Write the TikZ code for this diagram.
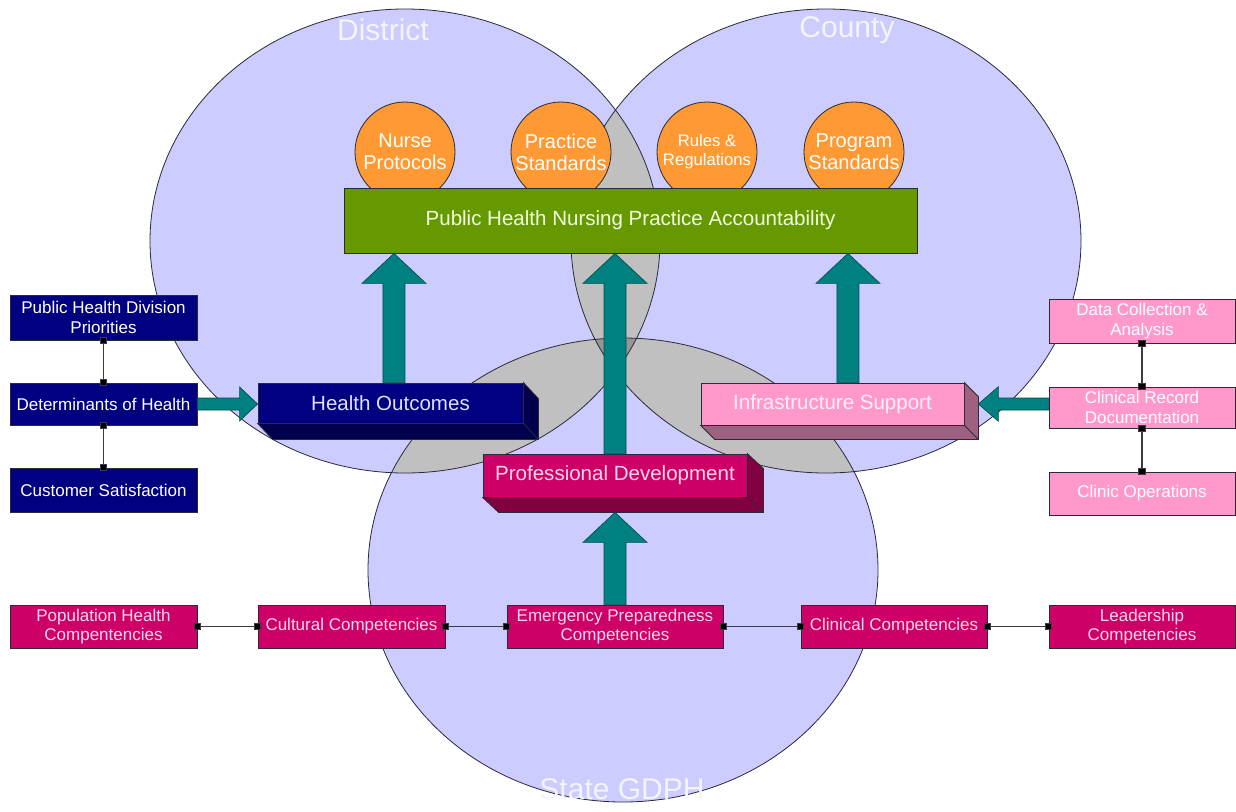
\documentclass[tikz,border=0pt]{standalone}
\usepackage{fontspec}
\setmainfont{Liberation Sans}
\usetikzlibrary{arrows.meta,calc}
\definecolor{lav}{HTML}{CCCCFF}
\definecolor{lensgray}{HTML}{C0C0C0}
\definecolor{trigray}{HTML}{969696}
\definecolor{navyf}{HTML}{000080}
\definecolor{navys}{HTML}{00004D}
\definecolor{magf}{HTML}{CC0066}
\definecolor{mags}{HTML}{800040}
\definecolor{magtext}{HTML}{FFD6EB}
\definecolor{pinkf}{HTML}{FF99CC}
\definecolor{pinks}{HTML}{A0607F}
\definecolor{tealf}{HTML}{008080}
\definecolor{orangef}{HTML}{FF9933}
\definecolor{greenf}{HTML}{669900}
\definecolor{greentext}{HTML}{F0FFE0}
\definecolor{edge}{HTML}{2A2A3A}
\definecolor{labeltext}{HTML}{F4F4FF}
\newcommand\upblk[2]{%
  \draw[blockarrow] let \p1=#1, \p2=#2 in
   (\x1-8.25pt,\y1) -- (\x1-8.25pt,\y2-22.5pt) -- (\x1-24pt,\y2-22.5pt) -- (\x1,\y2)
   -- (\x1+24pt,\y2-22.5pt) -- (\x1+8.25pt,\y2-22.5pt) -- (\x1+8.25pt,\y1) -- cycle;}
\newcommand\rightblk[2]{%
  \draw[blockarrow] let \p1=#1, \p2=#2 in
   (\x1,\y1+4.5pt) -- (\x2-13.5pt,\y1+4.5pt) -- (\x2-13.5pt,\y1+12.75pt) -- (\x2,\y1)
   -- (\x2-13.5pt,\y1-12.75pt) -- (\x2-13.5pt,\y1-4.5pt) -- (\x1,\y1-4.5pt) -- cycle;}
\newcommand\leftblk[2]{%
  \draw[blockarrow] let \p1=#1, \p2=#2 in
   (\x1,\y1+4.5pt) -- (\x2+15pt,\y1+4.5pt) -- (\x2+15pt,\y1+13pt) -- (\x2,\y1)
   -- (\x2+15pt,\y1-13pt) -- (\x2+15pt,\y1-4.5pt) -- (\x1,\y1-4.5pt) -- cycle;}
\newcommand\threedsides[4]{%
  \filldraw[facet, fill=#2] (#1.north east) -- ++(#3,#4) -- ($(#1.south east)+(#3,#4)$)
   -- ($(#1.south west)+(#3,#4)$) -- (#1.south west) -- (#1.south east) -- cycle;
  \draw[facet] (#1.south east) -- ++(#3,#4);}
\begin{document}
\begin{tikzpicture}[x=0.75pt,y=-0.75pt,
  venn/.style={draw=edge, line width=0.6pt},
  venntxt/.style={text=labeltext, font=\fontsize{22.5}{26}\selectfont, inner sep=0pt},
  box/.style={draw=edge, line width=0.6pt, inner sep=0pt, align=center,
    font=\fontsize{12.75}{14.5}\selectfont},
  navybox/.style={box, fill=navyf, text=white},
  magbox/.style={box, fill=magf, text=magtext},
  pinkbox/.style={box, fill=pinkf, text=white},
  sz/.style 2 args={minimum width=#1*0.75pt, minimum height=#2*0.75pt},
  bigtext/.style={font=\fontsize{15.4}{18}\selectfont},
  facet/.style={draw=edge, line width=0.6pt},
  orangec/.style={circle, draw=edge, line width=0.6pt, fill=orangef, text=white,
    minimum size=75pt, inner sep=0pt, align=center, font=\fontsize{15}{16.5}\selectfont},
  greenbar/.style={draw=edge, line width=0.6pt, fill=greenf, text=greentext,
    inner sep=0pt, font=\fontsize{15.4}{18}\selectfont},
  conn/.style={draw=edge!80!gray, line width=0.8pt,
    {Square[length=5.5pt,width=5.5pt,fill=black]}-{Square[length=5.5pt,width=5.5pt,fill=black]},
    shorten <=-2.75pt, shorten >=-2.75pt},
  blockarrow/.style={fill=tealf, draw=tealf!60!black, line width=0.5pt}
]
\useasboundingbox (0,0) rectangle (1236,811);
\fill[white] (0,0) rectangle (1236,811);

% Venn ellipses
\coordinate (cD) at (405,241);
\coordinate (cC) at (826,241);
\coordinate (cS) at (623,570);
\fill[lav] (cD) ellipse [x radius=191.25pt, y radius=174pt];
\fill[lav] (cC) ellipse [x radius=191.25pt, y radius=174pt];
\fill[lav] (cS) ellipse [x radius=191.25pt, y radius=174pt];
\begin{scope}
  \clip (cD) ellipse [x radius=191.25pt, y radius=174pt];
  \fill[lensgray] (cC) ellipse [x radius=191.25pt, y radius=174pt];
  \fill[lensgray] (cS) ellipse [x radius=191.25pt, y radius=174pt];
\end{scope}
\begin{scope}
  \clip (cC) ellipse [x radius=191.25pt, y radius=174pt];
  \fill[lensgray] (cS) ellipse [x radius=191.25pt, y radius=174pt];
\end{scope}
\begin{scope}
  \clip (cD) ellipse [x radius=191.25pt, y radius=174pt];
  \clip (cC) ellipse [x radius=191.25pt, y radius=174pt];
  \fill[trigray] (cS) ellipse [x radius=191.25pt, y radius=174pt];
\end{scope}
\draw[venn] (cD) ellipse [x radius=191.25pt, y radius=174pt];
\draw[venn] (cC) ellipse [x radius=191.25pt, y radius=174pt];
\draw[venn] (cS) ellipse [x radius=191.25pt, y radius=174pt];

\node[venntxt] (lD) at (383,30) {District};
\node[venntxt] (lC) at (847,30) {County};
\node[venntxt] (lS) at (622,789) {State GDPH};

% orange circles and bar
\node[orangec] (np) at (405,152) {Nurse\\Protocols};
\node[orangec] (ps) at (561,152) {Practice\\Standards};
\node[orangec, font=\fontsize{12.5}{14}\selectfont] (rr) at (707,152) {Rules \&\\Regulations};
\node[orangec] (pgs) at (854,152) {Program\\Standards};
\node[greenbar, sz={573}{65}] (pa) at (630.5,220.5) {Public Health Nursing Practice Accountability};

% left column
\node[navybox, sz={187}{45}] (phdp) at (103.5,317.5) {Public Health Division\\Priorities};
\node[navybox, sz={187}{42}] (doh) at (103.5,404) {Determinants of Health};
\node[navybox, sz={187}{44}] (cs) at (103.5,490) {Customer Satisfaction};

% right column
\node[pinkbox, sz={186}{44}] (dca) at (1142,321) {Data Collection \&\\Analysis};
\node[pinkbox, sz={186}{41}] (crd) at (1142,407.5) {Clinical Record\\Documentation};
\node[pinkbox, sz={186}{43}] (co) at (1142,493.5) {Clinic Operations};

% 3D boxes
\node[navybox, bigtext, text={rgb,255:red,224;green,224;blue,255}, sz={265}{40}] (ho) at (390.5,403) {Health Outcomes};
\threedsides{ho}{navys}{15}{16}
\node[magbox, bigtext, sz={264}{43}] (pd) at (615,475.5) {Professional Development};
\threedsides{pd}{mags}{16}{15}
\node[pinkbox, bigtext, text={rgb,255:red,255;green,240;blue,248}, sz={263}{42}] (inf) at (832.5,404) {Infrastructure Support};
\threedsides{inf}{pinks}{14}{14}

% bottom row
\node[magbox, sz={187}{43}] (phc) at (103.5,626.5) {Population Health\\Compentencies};
\node[magbox, sz={187}{43}] (cc) at (351.5,626.5) {Cultural Competencies};
\node[magbox, sz={216}{43}] (epc) at (615,626.5) {Emergency Preparedness\\Competencies};
\node[magbox, sz={186}{43}] (clc) at (894,626.5) {Clinical Competencies};
\node[magbox, sz={186}{43}] (lc) at (1142,626.5) {Leadership\\Competencies};

% connectors
\draw[conn] (phdp.south) -- (doh.north);
\draw[conn] (doh.south) -- (cs.north);
\draw[conn] (dca.south) -- (crd.north);
\draw[conn] (crd.south) -- (co.north);
\draw[conn] (phc.east) -- (cc.west);
\draw[conn] (cc.east) -- (epc.west);
\draw[conn] (epc.east) -- (clc.west);
\draw[conn] (clc.east) -- (lc.west);

% block arrows
\upblk{([xshift=2.6pt]ho.north)}{(pa.south)}
\upblk{(pd.north)}{(pa.south)}
\upblk{([xshift=11.6pt]inf.north)}{(pa.south)}
\upblk{(epc.north)}{([yshift=-11.25pt]pd.south)}
\rightblk{(doh.east)}{(ho.west)}
\leftblk{(crd.west |- inf.east)}{([xshift=10.5pt]inf.east)}
\end{tikzpicture}
\end{document}
